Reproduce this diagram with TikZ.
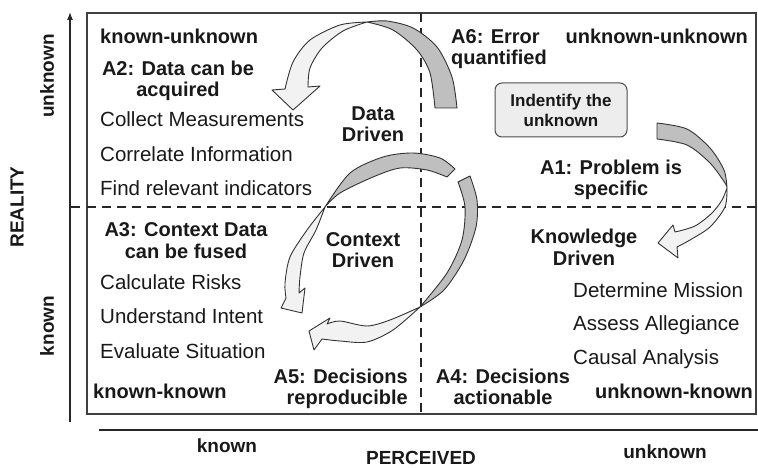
\documentclass[tikz,border=0pt]{standalone}
\usepackage{fontspec}
\setmainfont{Liberation Sans}
\usetikzlibrary{arrows.meta}
\begin{document}
\begin{tikzpicture}[x=1pt,y=-1pt,
  frame/.style={draw=black!75, line width=1.3pt},
  sepline/.style={draw=black!85, line width=2pt, dash pattern=on 9pt off 6pt},
  axisline/.style={draw=black!85, line width=1.1pt},
  bl/.style={font=\fontsize{20}{21}\selectfont\bfseries, inner sep=0pt, text=black!90},
  itemtxt/.style={font=\fontsize{20.5}{22}\selectfont, inner sep=0pt, text=black!90},
  axlbl/.style={font=\fontsize{19}{21}\selectfont\bfseries, inner sep=0pt, text=black!90},
  dk/.style={fill=black!25, draw=black!80, line width=0.9pt, line join=round},
  lt/.style={fill=black!5, draw=black!80, line width=0.9pt, line join=round},
  infobox/.style={draw=black!70, line width=1pt, fill=black!7, rounded corners=7pt,
    minimum width=132pt, minimum height=54pt, inner sep=2pt, align=center,
    font=\fontsize{17}{20}\selectfont\bfseries, text=black!90}]
\useasboundingbox (0,0) rectangle (758,468);

% frame and quadrant lines
\coordinate (tl) at (87,13);
\coordinate (br) at (756,414);
\draw[frame] (tl) rectangle (br);
\coordinate (vt) at (421,13);
\coordinate (vb) at (421,414);
\coordinate (hl) at (87,207);
\coordinate (hr) at (756,207);
\draw[sepline] (vt) -- (vb);
\draw[sepline] (hl) -- (hr);

% axes
\coordinate (ya) at (70,422);
\coordinate (yb) at (70,12);
\draw[axisline, -{Latex[length=8pt,width=6pt]}] (ya) -- (yb);
\coordinate (t1) at (70,207);
\coordinate (t2) at (80,207);
\draw[axisline] (t1) -- (t2);
\coordinate (xa) at (99,430);
\coordinate (xb) at (758,430);
\draw[axisline] (xa) -- (xb);

% top arrow (Data Driven)
\filldraw[dk] plot[smooth] coordinates {(457,108)(452,77)(437,47)(413,28)(387,21)(367,22)}
  -- plot[smooth] coordinates {(367,22)(393,30)(417,50)(430,73)(435,108)} -- cycle;
\filldraw[lt] plot[smooth] coordinates {(367,22)(340,25)(310,40)(293,62)(285,89)}
  -- (272,90) -- (293,110) -- (320,86) -- (308,87)
  -- plot[smooth] coordinates {(308,87)(310,68)(322,48)(343,31)(367,22)} -- cycle;

% right arrow (Knowledge Driven)
\filldraw[dk] plot[smooth] coordinates {(657,123)(687,129)(710,148)(724,170)(727,188)}
  -- plot[smooth] coordinates {(727,188)(725,183)(710,163)(687,145)(657,139)} -- cycle;
\filldraw[lt] plot[smooth] coordinates {(727,188)(725,207)(710,227)(690,240)(677,247)}
  -- (678,258) -- (658,243) -- (673,225) -- (675,232)
  -- plot[smooth] coordinates {(675,232)(695,226)(712,213)(722,200)(727,188)} -- cycle;

% ellipse arrow, upper-left part
\filldraw[dk] plot[smooth] coordinates {(455,169)(440,158)(413,153)(383,157)(350,173)(325,207)}
  -- plot[smooth] coordinates {(325,207)(340,193)(373,177)(400,168)(427,170)(447,177)} -- cycle;
\filldraw[lt] plot[smooth] coordinates {(325,207)(307,230)(290,257)(285,283)(286,298)}
  -- (281,308) -- (302,313) -- (305,288) -- (299,293)
  -- plot[smooth] coordinates {(299,293)(300,277)(304,253)(316,230)(325,207)} -- cycle;

% ellipse arrow, lower-right part
\filldraw[dk] plot[smooth] coordinates {(470,176)(477,200)(476,227)(464,260)(444,290)(420,307)}
  -- plot[smooth] coordinates {(420,307)(447,273)(462,240)(465,207)(458,182)} -- cycle;
\filldraw[lt] plot[smooth] coordinates {(420,307)(393,330)(367,342)(340,341)(322,339)}
  -- (314,350) -- (309,331) -- (330,318) -- (327,324)
  -- plot[smooth] coordinates {(327,324)(340,321)(367,326)(390,320)(420,307)} -- cycle;

% upper-left quadrant (base anchor = baseline of last line)
\node[bl, anchor=base west] (ku) at (100,44) {known-unknown};
\node[bl, anchor=base, align=center] (a2) at (178,97) {A2: Data can be\\acquired};
\node[itemtxt, anchor=base west] (i1) at (100,127) {Collect Measurements};
\node[itemtxt, anchor=base west] (i2) at (100,161) {Correlate Information};
\node[itemtxt, anchor=base west] (i3) at (100,195) {Find relevant indicators};
\node[bl, anchor=base, align=center] (dd) at (373,142) {Data\\Driven};

% upper-right quadrant
\node[bl, anchor=base west, align=left] (a6) at (451,65) {A6: Error\\quantified};
\node[bl, anchor=base east] (uu) at (748,44) {unknown-unknown};
\node[infobox] (iu) at (561,110) {Indentify the\\unknown};
\node[bl, anchor=base, align=center] (a1) at (611,196) {A1: Problem is\\specific};

% lower-right quadrant
\node[bl, anchor=base, align=center] (kd) at (584,265) {Knowledge\\Driven};
\node[itemtxt, anchor=base west] (j1) at (573,297) {Determine Mission};
\node[itemtxt, anchor=base west] (j2) at (573,330) {Assess Allegiance};
\node[itemtxt, anchor=base west] (j3) at (573,364) {Causal Analysis};
\node[bl, anchor=base, align=center] (a4) at (503,404) {A4: Decisions\\actionable};
\node[bl, anchor=base east] (uk) at (753,398) {unknown-known};

% lower-left quadrant
\node[bl, anchor=base, align=center] (a3) at (186,258) {A3: Context Data\\can be fused};
\node[bl, anchor=base, align=center] (cd) at (363,267) {Context\\Driven};
\node[itemtxt, anchor=base west] (k1) at (100,289) {Calculate Risks};
\node[itemtxt, anchor=base west] (k2) at (100,323) {Understand Intent};
\node[itemtxt, anchor=base west] (k3) at (100,358) {Evaluate Situation};
\node[bl, anchor=base east, align=right] (a5) at (408,404) {A5: Decisions\\reproducible};
\node[bl, anchor=base west] (kk) at (93,398) {known-known};

% axis labels
\node[axlbl, rotate=90] (yu) at (47,76) {unknown};
\node[axlbl, rotate=90] (yr) at (17,207) {REALITY};
\node[axlbl, rotate=90] (yk) at (47,326) {known};
\node[axlbl, anchor=base] (xk) at (227,452) {known};
\node[axlbl, anchor=base] (xp) at (421,464) {PERCEIVED};
\node[axlbl, anchor=base] (xu) at (665,458) {unknown};
\end{tikzpicture}
\end{document}
